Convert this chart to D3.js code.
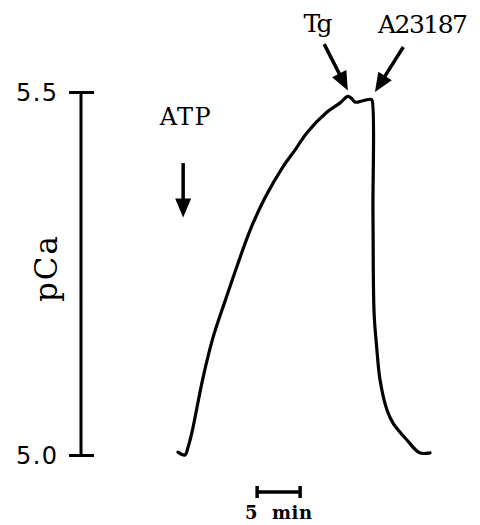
<!DOCTYPE html>
<html>
<head>
<meta charset="utf-8">
<script src="https://cdn.jsdelivr.net/npm/d3@7"></script>
<style>
  body { margin: 0; background: #fff; }
  svg { display: block; }
  .trace { fill: none; stroke: #000; stroke-width: 3.2; stroke-linejoin: round; stroke-linecap: round; }
  .axis path, .axis line { stroke: #000; stroke-width: 3; }
</style>
</head>
<body>
<div id="viz"></div>
<script>
// time (min) from start of the trace, and pCa
var times = [0, 0.8, 1.15, 1.6, 2.9, 4.1, 5.5, 8.4, 10.1, 12.2, 13.6, 15.0, 17.3, 18.85, 19.75, 20.2, 20.6, 21.5, 22.4, 22.55, 22.67, 22.8, 23.1, 23.5, 24.3, 25.0, 26.6, 28.1, 29.3]
var pCa   = [5.004, 5.0, 5.01, 5.03, 5.106, 5.163, 5.213, 5.31, 5.354, 5.397, 5.42, 5.444, 5.472, 5.485, 5.494, 5.491, 5.486, 5.488, 5.49, 5.489, 5.333, 5.196, 5.149, 5.103, 5.062, 5.044, 5.021, 5.003, 5.003]

var yTicks = [5.0, 5.5]

// arrows: [label, tFrom, pFrom, tTo, pTo]
var arrows = [
  ["ATP", 0.6, 5.402, 0.6, 5.327],
  ["Tg", 17.0, 5.566, 19.75, 5.502],
  ["A23187", 26.2, 5.562, 22.9, 5.5]
]

// scale bar: start and length in minutes
var barStart = 9.2
var barLen = 5

function draw() {
  var svg = d3.select('#viz').append('svg')
    .attr('width', 480)
    .attr('height', 525)

  var xScale = d3.scaleLinear().domain([0, 30]).range([178, 436])
  var yScale = d3.scaleLinear().domain([5.0, 5.5]).range([455, 92])

  // y axis with caps on both sides
  var axis = svg.append('g')
    .attr('class', 'axis')
    .attr('transform', 'translate(81,0)')
    .call(d3.axisLeft(yScale).tickValues(yTicks).tickSizeOuter(0).tickSizeInner(12).tickFormat(d3.format('.1f')))
  axis.attr('font-size', 24).attr('font-family', '"DejaVu Sans", sans-serif')
  axis.select('.domain').attr('d', `M0,${yScale(5.0)}V${yScale(5.5)}`)
  axis.selectAll('.tick line').attr('x1', -12).attr('x2', 13)
  axis.selectAll('.tick text')
    .attr('x', -24)
    .attr('dy', '0.36em')
    .attr('font-size', 24)
    .attr('fill', '#000')
    .attr('textLength', 41)

  svg.append('text')
    .attr('transform', 'translate(57,269) rotate(-90)')
    .attr('text-anchor', 'middle')
    .attr('font-family', '"DejaVu Serif", serif')
    .attr('font-size', 31)
    .attr('textLength', 66)
    .text('pCa')

  var line = d3.line()
    .x((d, i) => xScale(times[i]))
    .y((d) => yScale(d))
    .curve(d3.curveCatmullRom.alpha(0.5))

  svg.append('path')
    .attr('class', 'trace')
    .attr('d', line(pCa))

  // arrows
  arrows.forEach(function (a) {
    var x1 = xScale(a[1]), y1 = yScale(a[2])
    var x2 = xScale(a[3]), y2 = yScale(a[4])
    var dx = x2 - x1, dy = y2 - y1
    var len = Math.sqrt(dx * dx + dy * dy)
    var ux = dx / len, uy = dy / len
    var headL = 19, headW = 8
    var bx = x2 - ux * headL, by = y2 - uy * headL
    svg.append('line')
      .attr('x1', x1).attr('y1', y1)
      .attr('x2', bx + ux * 2).attr('y2', by + uy * 2)
      .attr('stroke', '#000')
      .attr('stroke-width', 3.5)
    svg.append('path')
      .attr('d', `M${x2},${y2}L${bx - uy * headW},${by + ux * headW}L${bx + uy * headW},${by - ux * headW}Z`)
      .attr('fill', '#000')
  })

  function note(x, y, size, len, txt) {
    return svg.append('text')
      .attr('x', x).attr('y', y)
      .attr('text-anchor', 'middle')
      .attr('font-family', '"DejaVu Serif", serif')
      .attr('font-size', size)
      .attr('textLength', len)
      .text(txt)
  }

  // arrow labels
  note(xScale(arrows[0][1]) + 2, 125, 24, 51, arrows[0][0])
  note(318, 32, 25, 29, arrows[1][0])
  note(423, 33, 25, 90, arrows[2][0])

  // 5 min scale bar
  var sx1 = xScale(barStart), sx2 = xScale(barStart + barLen)
  var sy = 492
  var bar = svg.append('g').attr('stroke', '#000').attr('stroke-width', 3.5)
  bar.append('line').attr('x1', sx1).attr('x2', sx2).attr('y1', sy).attr('y2', sy)
  bar.append('line').attr('x1', sx1).attr('x2', sx1).attr('y1', sy - 6).attr('y2', sy + 6)
  bar.append('line').attr('x1', sx2).attr('x2', sx2).attr('y1', sy - 6).attr('y2', sy + 6)

  note((sx1 + sx2) / 2, 519, 18, 67, barLen + '\u00a0\u00a0min')
    .attr('font-weight', 'bold')
}

draw()
</script>
</body>
</html>
